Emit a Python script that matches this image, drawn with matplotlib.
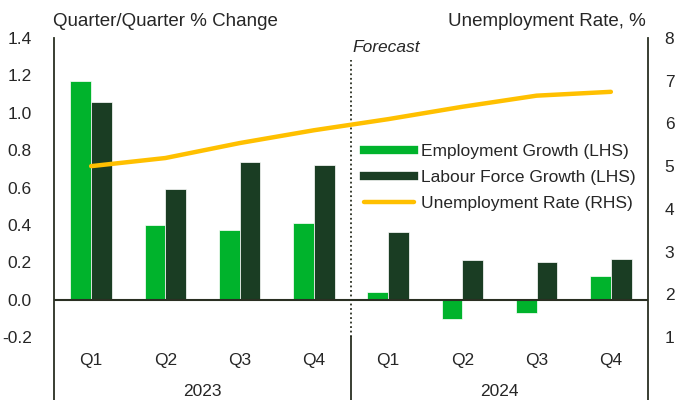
import matplotlib.pyplot as plt
from matplotlib.lines import Line2D
import matplotlib.transforms as mtransforms

plt.rcParams['font.family'] = ['Liberation Sans', 'DejaVu Sans']

# data
quarters = ['Q1', 'Q2', 'Q3', 'Q4', 'Q1', 'Q2', 'Q3', 'Q4']
years = ['2023', '2024']
employment = [1.17, 0.40, 0.375, 0.41, 0.04, -0.105, -0.07, 0.125]
labour_force = [1.055, 0.59, 0.735, 0.72, 0.36, 0.21, 0.20, 0.22]
unemployment = [5.0, 5.19, 5.54, 5.84, 6.10, 6.39, 6.65, 6.74]

green = '#00b32c'
dark_green = '#1a3d23'
yellow = '#ffc000'
text_col = '#262626'
line_col = '#2a2f22'

fig = plt.figure(figsize=(6.75, 4), dpi=100)
ax = fig.add_axes([54 / 675, 1 - 337 / 400, 594 / 675, 299 / 400])
ax2 = ax.twinx()

x = list(range(len(quarters)))
w = 0.28
ax.bar([i - w / 2 for i in x], employment, width=w, color=green,
       edgecolor='white', linewidth=0.5, label='Employment Growth (LHS)')
ax.bar([i + w / 2 for i in x], labour_force, width=w, color=dark_green,
       edgecolor='white', linewidth=0.5, label='Labour Force Growth (LHS)')
ax.axhline(0, color=line_col, lw=1.5, zorder=3)

ax2.plot(x, unemployment, color=yellow, lw=3.2, solid_capstyle='round',
         label='Unemployment Rate (RHS)')

ax.set_xlim(-0.5, 7.5)
ax.set_ylim(-0.2, 1.4)
ax2.set_ylim(1, 8)
ax.set_yticks([-0.2, 0, 0.2, 0.4, 0.6, 0.8, 1.0, 1.2, 1.4])
ax.set_yticklabels([f'{v:.1f}' for v in ax.get_yticks()])
ax2.set_yticks(range(1, 9))
ax.set_xticks([])

for a in (ax, ax2):
    for s in a.spines.values():
        s.set_visible(False)
    a.tick_params(axis='y', length=0, labelsize=12.5, labelcolor=text_col)
ax.tick_params(axis='y', pad=16)
ax2.tick_params(axis='y', pad=12)

# side spines reaching down through the category labels
trans = mtransforms.blended_transform_factory(ax.transData, ax.transAxes)
for xv in (-0.5, 7.5):
    ax.add_line(Line2D([xv, xv], [-0.22, 1.0], transform=trans, color=line_col,
                       lw=1.3, clip_on=False))
ax.add_line(Line2D([3.5, 3.5], [-0.22, 0.0], transform=trans, color=line_col,
                   lw=1.3, clip_on=False))

# forecast divider
ax.plot([3.5, 3.5], [-0.2, 1.28], color=line_col, lw=1.3, ls=(0, (1, 1.5)))
ax.text(3.52, 1.35, 'Forecast', style='italic', fontsize=12.5,
        color=text_col, va='center', ha='left')

# category labels
for i, q in enumerate(quarters):
    ax.text(i, -0.08, q, transform=trans, ha='center', va='center',
            fontsize=12.5, color=text_col)
for j, yr in enumerate(years):
    ax.text(1.5 + 4 * j, -0.183, yr, transform=trans, ha='center',
            va='center', fontsize=12.5, color=text_col)

fig.text(53 / 675, 1 - 22 / 400, 'Quarter/Quarter % Change', fontsize=13.5,
         color=text_col, ha='left', va='center')
fig.text(646 / 675, 1 - 22 / 400, 'Unemployment Rate, %', fontsize=13.5,
         color=text_col, ha='right', va='center')

handles = [Line2D([], [], color=green, lw=6),
           Line2D([], [], color=dark_green, lw=6),
           Line2D([], [], color=yellow, lw=3.2, solid_capstyle='round')]
labels = ['Employment Growth (LHS)', 'Labour Force Growth (LHS)',
          'Unemployment Rate (RHS)']
ax2.legend(handles, labels, loc='upper left', bbox_to_anchor=(0.522, 0.645),
           frameon=False, fontsize=12.5, borderpad=0, borderaxespad=0,
           handlelength=2.9, handletextpad=0.4, labelspacing=0.62,
           labelcolor=text_col)

fig.savefig('out.png', dpi=100)
